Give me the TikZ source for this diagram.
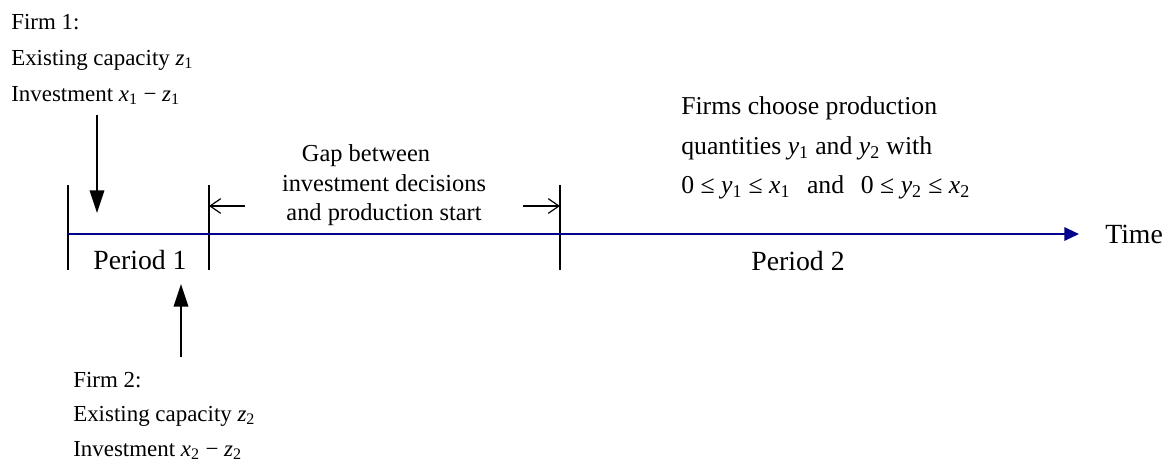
\documentclass[tikz,border=0pt]{standalone}
\usepackage{fontspec}
\setmainfont{Liberation Serif}
\usetikzlibrary{arrows.meta}
\newcommand{\msub}[2]{\textit{#1}\textsubscript{#2}}
\definecolor{timeblue}{RGB}{0,0,140}
\begin{document}
\begin{tikzpicture}[x=0.75pt,y=-0.75pt,
  firmtxt/.style={inner sep=0,anchor=base west,font=\fontsize{17.2}{20}\selectfont},
  gaptxt/.style={inner sep=0,anchor=base,font=\fontsize{18.3}{22}\selectfont},
  prodtxt/.style={inner sep=0,anchor=base west,font=\fontsize{19.3}{23}\selectfont},
  pertxt/.style={inner sep=0,anchor=base,font=\fontsize{20.8}{25}\selectfont},
  tick/.style={line width=1.1pt},
  firmarrow/.style={line width=1.1pt,-{Triangle[length=17pt,width=11pt]}},
  gaparrow/.style={line width=0.9pt,-{Straight Barb[length=8pt,width=11pt]}},
  timeline/.style={line width=1.5pt,draw=timeblue,-{Triangle[length=11pt,width=10pt,fill=timeblue]}}]
\useasboundingbox (0,0) rectangle (1166,462);

% ticks
\coordinate (t1a) at (68,185);  \coordinate (t1b) at (68,270);
\coordinate (t2a) at (209,185); \coordinate (t2b) at (209,270);
\coordinate (t3a) at (560,185); \coordinate (t3b) at (560,270);
\draw[tick] (t1a) -- (t1b);
\draw[tick] (t2a) -- (t2b);
\draw[tick] (t3a) -- (t3b);

% timeline
\coordinate (tl0) at (68,234);
\coordinate (tl1) at (1079,234);
\draw[timeline] (tl0) -- (tl1);
\node[pertxt,anchor=base west] (time) at (1105,243) {Time};

% period labels
\node[pertxt] (p1) at (140,269) {Period 1};
\node[pertxt] (p2) at (798,270) {Period 2};

% Firm 1
\node[firmtxt] (f1a) at (11,29) {Firm 1:};
\node[firmtxt] (f1b) at (11,65) {Existing capacity \msub{z}{1}};
\node[firmtxt] (f1c) at (11,101) {Investment \msub{x}{1} − \msub{z}{1}};
\coordinate (a1s) at (97,115);
\coordinate (a1e) at (97,213);
\draw[firmarrow] (a1s) -- (a1e);

% Firm 2
\node[firmtxt] (f2a) at (73,387) {Firm 2:};
\node[firmtxt] (f2b) at (73,421) {Existing capacity \msub{z}{2}};
\node[firmtxt] (f2c) at (73,456) {Investment \msub{x}{2} − \msub{z}{2}};
\coordinate (a2s) at (181,357);
\coordinate (a2e) at (181,284);
\draw[firmarrow] (a2s) -- (a2e);

% gap
\node[gaptxt] (g1) at (366,161) {Gap between};
\node[gaptxt] (g2) at (384,191) {investment decisions};
\node[gaptxt] (g3) at (384,220) {and production start};
\coordinate (gl) at (245,206);
\coordinate (gr) at (523,206);
\coordinate (glt) at (209,206);
\coordinate (grt) at (560,206);
\draw[gaparrow] (gl) -- (glt);
\draw[gaparrow] (gr) -- (grt);

% production text
\node[prodtxt] (q1) at (681,114) {Firms choose production};
\node[prodtxt] (q2) at (681,154) {quantities \msub{y}{1} and \msub{y}{2} with};
\node[prodtxt] (q3) at (681,193) {0 ≤ \msub{y}{1} ≤ \msub{x}{1}\hspace{0.4em} and\hspace{0.4em} 0 ≤ \msub{y}{2} ≤ \msub{x}{2}};
\end{tikzpicture}
\end{document}
